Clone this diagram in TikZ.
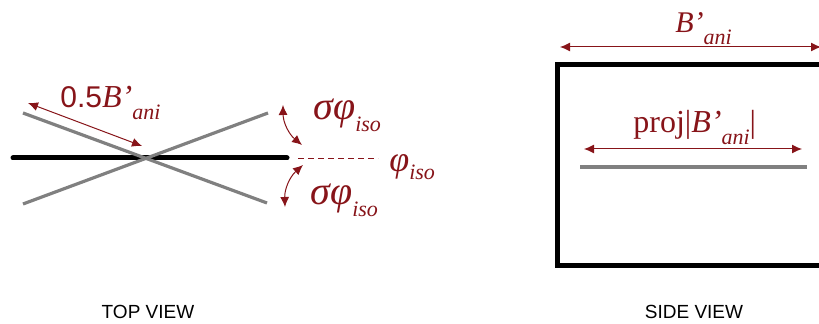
\documentclass[tikz,border=0pt]{standalone}
\usepackage{fontspec}
\setmainfont{Liberation Serif}
\setsansfont{Liberation Sans}
\usetikzlibrary{arrows.meta,positioning}

\definecolor{lblred}{RGB}{135,20,25}
\definecolor{beamgray}{RGB}{128,128,128}
\newcommand{\lowsub}[2][6pt]{\raisebox{-#1}{\fontsize{11}{11}\selectfont\itshape #2}}

\tikzset{
  dim/.style={lblred, line width=0.5pt, {Latex[length=5pt,width=4.5pt]}-{Latex[length=5pt,width=4.5pt]}},
  beam/.style={line width=2.5pt, line cap=round},
  ghost/.style={beamgray, line width=1.6pt},
  lbl/.style={lblred, inner sep=0pt, anchor=base west},
  view/.style={font=\sffamily\fontsize{9.5}{10}\selectfont},
}

\begin{document}
\begin{tikzpicture}[x=0.5pt,y=-0.5pt]
  \useasboundingbox (0,0) rectangle (819,324);
  \clip (0,0) rectangle (819,324);

  % Top view
  \coordinate (cross) at (145,158);
  \draw[beam] (13,158) -- (287,158);
  \draw[ghost] (23,113) -- (267,203);
  \draw[ghost] (23,204) -- (268,113);
  \coordinate (halfend) at (28,103);
  \draw[dim] (halfend) -- (142,146);
  \node[lbl, font=\fontsize{16}{16}\selectfont] (halflbl) at (60,108)
    {{\sffamily\fontsize{15}{15}\selectfont 0.5}\textit{B’}\lowsub{ani}};

  % rotation spread
  \draw[lblred, line width=0.5pt, densely dashed] (298,159) -- (378,159);
  \draw[dim] (283,105) to[bend right=25] (302,145);
  \draw[dim] (303,165) to[bend right=25] (285,207);
  \node[lbl, font=\fontsize{20}{20}\selectfont] (uplbl) at (313,120)
    {\textit{σφ}\lowsub{iso}};
  \node[lbl, font=\fontsize{18}{18}\selectfont] (isolbl) at (389,172)
    {\textit{φ}\lowsub[4pt]{iso}};
  \node[lbl, font=\fontsize{20}{20}\selectfont] (lowlbl) at (310,205)
    {\textit{σφ}\lowsub{iso}};

  \node[view] (toplbl) at (148,312) {TOP VIEW};

  % Side view
  \draw[beam, line cap=butt] (830,65) -- (557,65) -- (557,266) -- (830,266);
  \draw[dim] (560,47) -- (821,47);
  \node[lbl, font=\fontsize{15}{15}\selectfont] (widthlbl) at (675,33)
    {\textit{B’}\lowsub{ani}};
  \draw[ghost] (580,167) -- (807,167);
  \draw[dim] (584,149) -- (802,149);
  \node[lbl, font=\fontsize{16}{16}\selectfont] (projlbl) at (633,133)
    {proj|\textit{B’}\lowsub{ani}|};

  \node[view] (sidelbl) at (694,312) {SIDE VIEW};
\end{tikzpicture}
\end{document}
